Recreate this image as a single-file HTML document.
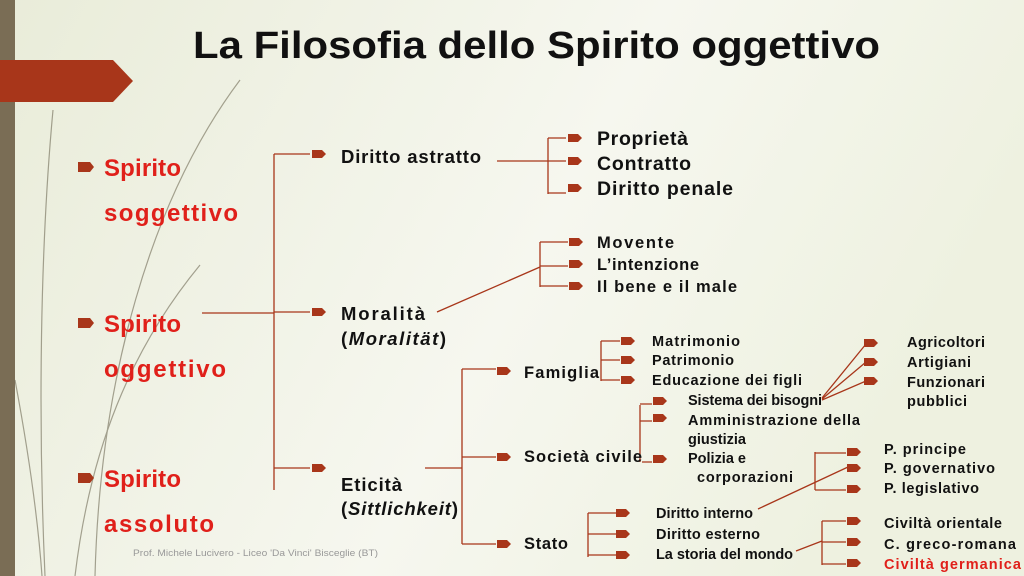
<!DOCTYPE html>
<html><head><meta charset="utf-8"><style>
html,body{margin:0;padding:0;width:1024px;height:576px;overflow:hidden}
svg{display:block}
text{font-family:"Liberation Sans",sans-serif;font-weight:bold;fill:#111}
</style></head><body>
<svg width="1024" height="576" viewBox="0 0 1024 576" xmlns="http://www.w3.org/2000/svg">
<defs>
<linearGradient id="bg" x1="0" y1="0" x2="1" y2="0.3">
<stop offset="0" stop-color="#e9ecd9"/><stop offset="0.6" stop-color="#f6f7ef"/><stop offset="1" stop-color="#eef1e0"/>
</linearGradient>
<path id="b" d="M0,-4 H10 L14,0 L10,4 H0Z" fill="#a8361a"/>
<path id="bb" d="M0,-5 H12 L16,0 L12,5 H0Z" fill="#a8361a"/>
</defs>
<rect width="1024" height="576" fill="url(#bg)"/>
<rect x="0" y="0" width="15" height="576" fill="#7a6d55"/>
<path d="M0,60 H113 L133,81 L113,102 H0Z" fill="#a8361a"/>
<g fill="none" stroke="#6f6a55" stroke-width="1.2" opacity="0.6">
<path d="M53,110 C40,250 38,420 45,576"/>
<path d="M200,265 C130,350 90,450 75,576"/>
<path d="M240,80 C150,200 100,380 95,576"/>
<path d="M15,380 C30,460 38,520 42,576"/>
</g>
<text x="193" y="58" font-size="38" textLength="687" lengthAdjust="spacingAndGlyphs" fill="#262626">La Filosofia dello Spirito oggettivo</text>
<g font-size="24" lengthAdjust="spacingAndGlyphs">
<use href="#bb" x="78" y="167"/><text x="104" y="176" textLength="77" style="fill:#e0201a">Spirito</text>
<text x="104" y="221" textLength="134" style="fill:#e0201a">soggettivo</text>
<use href="#bb" x="78" y="323"/><text x="104" y="332" textLength="77" style="fill:#e0201a">Spirito</text>
<text x="104" y="377" textLength="122" style="fill:#e0201a">oggettivo</text>
<use href="#bb" x="78" y="478"/><text x="104" y="487" textLength="77" style="fill:#e0201a">Spirito</text>
<text x="104" y="532" textLength="110" style="fill:#e0201a">assoluto</text>
</g>
<g stroke="#a8361a" stroke-width="1.3" fill="none">
<path d="M274,154 V490"/><path d="M202,313 H274"/>
<path d="M274,154 H310"/><path d="M274,312 H310"/><path d="M274,468 H310"/>
<path d="M497,161 H548 M548,138 V194 M548,138 H566 M548,161 H566 M548,193 H566"/>
<path d="M437,312 L540,267 M540,242 V287 M540,242 H568 M540,266 H568 M540,286 H568"/>
<path d="M425,468 H462 M462,369 V544 M462,369 H496 M462,457 H496 M462,544 H496"/>
<path d="M601,341 V381 M601,341 H620 M601,360 H620 M601,380 H620"/>
<path d="M640,405 V462 M640,404 H652 M640,421 H652 M642,462 H652"/>
<path d="M822,398 L866,344 M822,399 L866,362 M822,400 L866,381"/>
<path d="M588,513 V557 M588,513 H616 M588,534 H616 M588,555 H616"/>
<path d="M758,509 L848,467 M815,452 V490 M815,453 H846 M815,490 H846"/>
<path d="M796,551 L822,541 M822,521 V565 M822,521 H846 M822,542 H846 M822,564 H846"/>
</g>
<use href="#b" x="312" y="154"/><use href="#b" x="312" y="312"/><use href="#b" x="312" y="468"/>
<use href="#b" x="568" y="138"/><use href="#b" x="568" y="161"/><use href="#b" x="568" y="188"/>
<use href="#b" x="569" y="242"/><use href="#b" x="569" y="264"/><use href="#b" x="569" y="286"/>
<use href="#b" x="497" y="371"/><use href="#b" x="497" y="457"/><use href="#b" x="497" y="544"/>
<use href="#b" x="621" y="341"/><use href="#b" x="621" y="360"/><use href="#b" x="621" y="380"/>
<use href="#b" x="653" y="401"/><use href="#b" x="653" y="418"/><use href="#b" x="653" y="459"/>
<use href="#b" x="864" y="343"/><use href="#b" x="864" y="362"/><use href="#b" x="864" y="381"/>
<use href="#b" x="616" y="513"/><use href="#b" x="616" y="534"/><use href="#b" x="616" y="555"/>
<use href="#b" x="847" y="452"/><use href="#b" x="847" y="468"/><use href="#b" x="847" y="489"/>
<use href="#b" x="847" y="521"/><use href="#b" x="847" y="542"/><use href="#b" x="847" y="563"/>
<g font-size="18.5" lengthAdjust="spacingAndGlyphs">
<text x="341" y="163" textLength="140">Diritto astratto</text>
<text x="341" y="320" textLength="84">Moralità</text>
<text x="341" y="345" textLength="105">(<tspan font-style="italic">Moralität</tspan>)</text>
<text x="341" y="491" textLength="61">Eticità</text>
<text x="341" y="515" textLength="117">(<tspan font-style="italic">Sittlichkeit</tspan>)</text>
</g>
<g font-size="19.5" lengthAdjust="spacingAndGlyphs">
<text x="597" y="145" textLength="91">Proprietà</text><text x="597" y="170" textLength="94">Contratto</text><text x="597" y="195" textLength="136">Diritto penale</text>
</g>
<g font-size="16.5" lengthAdjust="spacingAndGlyphs">
<text x="597" y="248" textLength="77">Movente</text><text x="597" y="270" textLength="102">L’intenzione</text><text x="597" y="292" textLength="140">Il bene e il male</text>
<text x="524" y="378" textLength="75">Famiglia</text><text x="524" y="462" textLength="118">Società civile</text><text x="524" y="549" textLength="44">Stato</text>
</g>
<g font-size="14.5" lengthAdjust="spacingAndGlyphs">
<text x="652" y="346" textLength="88">Matrimonio</text><text x="652" y="365" textLength="82">Patrimonio</text><text x="652" y="385" textLength="150">Educazione dei figli</text>
<text x="688" y="405" textLength="134">Sistema dei bisogni</text><text x="688" y="425" textLength="172">Amministrazione della</text>
<text x="688" y="444" textLength="58">giustizia</text><text x="688" y="463" textLength="58">Polizia e</text><text x="697" y="482" textLength="96">corporazioni</text>
<text x="907" y="347" textLength="78">Agricoltori</text><text x="907" y="367" textLength="64">Artigiani</text><text x="907" y="387" textLength="78">Funzionari</text><text x="907" y="406" textLength="60">pubblici</text>
<text x="656" y="518" textLength="97">Diritto interno</text><text x="656" y="539" textLength="104">Diritto esterno</text><text x="656" y="559" textLength="137">La storia del mondo</text>
<text x="884" y="454" textLength="82">P. principe</text><text x="884" y="473" textLength="111">P. governativo</text><text x="884" y="493" textLength="95">P. legislativo</text>
<text x="884" y="528" textLength="118">Civiltà orientale</text><text x="884" y="549" textLength="132">C. greco-romana</text><text x="884" y="569" textLength="137" style="fill:#e0201a">Civiltà germanica</text>
</g>
<text x="133" y="556" font-size="9.5" textLength="245" lengthAdjust="spacingAndGlyphs" style="font-weight:normal;fill:#999">Prof. Michele Lucivero - Liceo 'Da Vinci' Bisceglie (BT)</text>
</svg>
</body></html>
